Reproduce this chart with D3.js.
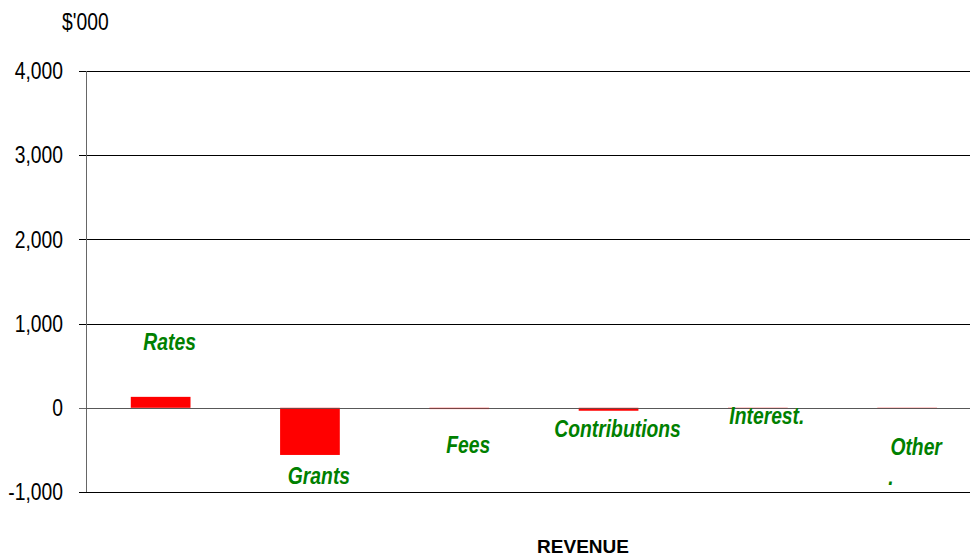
<!DOCTYPE html>
<html>
<head>
<meta charset="utf-8">
<script src="https://cdn.jsdelivr.net/npm/d3@7"></script>
<style>
  body { margin: 0; background: #fff; }
  svg { display: block; font-family: "Liberation Sans", Arial, sans-serif; }
</style>
</head>
<body>
<svg width="970" height="558"></svg>
<script>
// chart data
const categories = ["Rates", "Grants", "Fees", "Contributions", "Interest.", "Other"];
const values = [130, -560, -15, -35, -5, -5];
const yTicks = [-1000, 0, 1000, 2000, 3000, 4000];

// label placement (px below / above the end of each bar)
const labelDy = [-47, 29, 44, 26, 16, 47];
const SX = 0.84; // text in the original is squeezed sideways

const svg = d3.select("svg");
const plotLeft = 86, plotRight = 970, plotTop = 71, plotBottom = 492;

// the category area runs a little past the right edge of the picture
const x = d3.scaleBand().domain(categories).range([plotLeft, plotLeft + 6 * 149.3]).paddingInner(0.6).paddingOuter(0.3);
const y = d3.scaleLinear().domain([-1000, 4000]).range([plotBottom, plotTop]);
const fmt = d => d3.format(",")(d).replace("\u2212", "-");
const crisp = v => Math.round(v) + 0.5;

function squeezed(sel, px, py) {
    return sel.attr("transform", `translate(${px},${py}) scale(${SX},1)`);
}

// gridlines + ticks
const grid = svg.append("g");
grid.selectAll("line").data(yTicks)
    .enter().append("line")
    .attr("x1", plotLeft - 7).attr("x2", plotRight)
    .attr("y1", d => crisp(y(d))).attr("y2", d => crisp(y(d)))
    .attr("stroke", d => d === 0 ? "#666" : "#000")
    .attr("stroke-width", 1);

grid.selectAll("text").data(yTicks)
    .enter().append("text")
    .attr("text-anchor", "end")
    .attr("dy", "0.36em")
    .attr("font-size", 23)
    .attr("fill", "#000")
    .each(function(d) { squeezed(d3.select(this), 63, y(d)); })
    .text(fmt);

// y axis line
svg.append("line")
    .attr("x1", crisp(plotLeft)).attr("x2", crisp(plotLeft))
    .attr("y1", plotTop).attr("y2", plotBottom)
    .attr("stroke", "#666");

// bars
svg.append("g").selectAll("rect").data(values)
    .enter().append("rect")
    .attr("x", (d, i) => x(categories[i]))
    .attr("width", x.bandwidth())
    .attr("y", d => y(Math.max(0, d)))
    .attr("height", d => Math.abs(y(d) - y(0)))
    .attr("fill", "#ff0000");

// zero line drawn over bars
svg.append("line")
    .attr("x1", plotLeft).attr("x2", plotRight)
    .attr("y1", crisp(y(0))).attr("y2", crisp(y(0)))
    .attr("stroke", "#555").attr("stroke-opacity", 0.8);

// data labels
const labels = svg.append("g");
values.forEach(function(v, i) {
    const cx = x(categories[i]) + x.bandwidth() / 2 + 9;
    const cy = y(v) + labelDy[i];
    const t = labels.append("text")
        .attr("text-anchor", "middle")
        .attr("font-size", 23)
        .attr("font-weight", "bold")
        .attr("font-style", "italic")
        .attr("fill", "#008000");
    squeezed(t, cx, cy);
    if (categories[i] === "Other") {
        t.append("tspan").attr("x", 0).attr("dy", 0).text("Other");
        t.append("tspan").attr("x", -30).attr("dy", 30).text(".");
    } else {
        t.text(categories[i]);
    }
});

// unit label
squeezed(svg.append("text"), 62, 30)
    .attr("font-size", 23)
    .text("$'000");

// axis title
svg.append("text")
    .attr("x", 583).attr("y", 553)
    .attr("text-anchor", "middle")
    .attr("font-size", 19)
    .attr("font-weight", "bold")
    .text("REVENUE");
</script>
</body>
</html>
